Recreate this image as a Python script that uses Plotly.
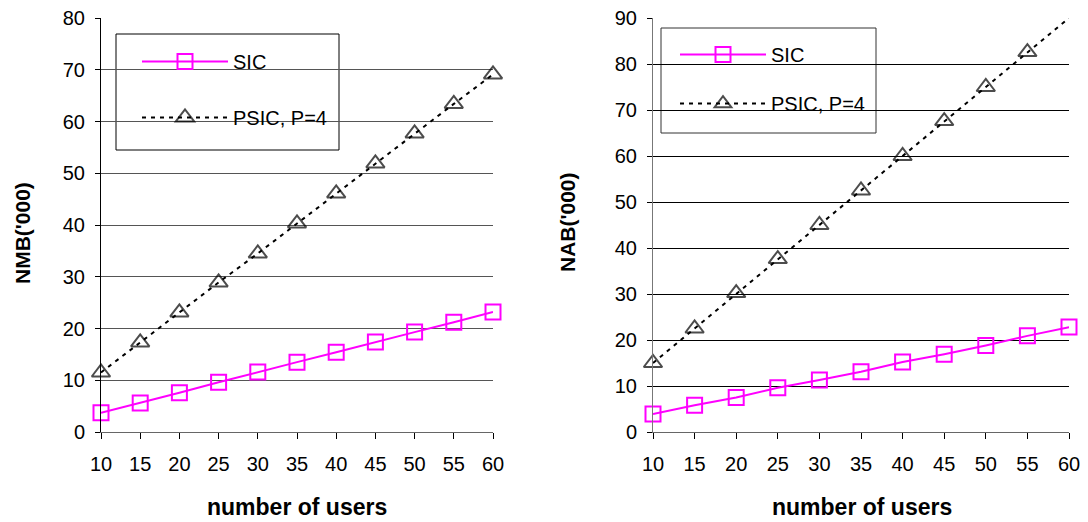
import plotly.graph_objects as go

users = [10, 15, 20, 25, 30, 35, 40, 45, 50, 55, 60]
nmb_sic = [3.7, 5.6, 7.6, 9.6, 11.6, 13.5, 15.4, 17.4, 19.3, 21.2, 23.2]
nmb_psic = [11.5, 17.3, 23.1, 28.9, 34.5, 40.3, 46.1, 51.9, 57.7, 63.4, 69.1]
nab_sic = [3.9, 5.8, 7.5, 9.6, 11.3, 13.1, 15.2, 16.9, 18.8, 20.9, 22.8]
nab_psic = [15.0, 22.5, 30.2, 37.6, 45.0, 52.5, 60.0, 67.6, 75.0, 82.6, 90.0]
x_ticks = [10, 15, 20, 25, 30, 35, 40, 45, 50, 55, 60]

FONT = "Liberation Sans, Arial, sans-serif"
MAG = "#FF00FF"
W, H = 1088, 522

fig = go.Figure()

def add_pair(sic, psic, xa, ya, leg, ymax):
    fig.add_trace(go.Scatter(
        x=users, y=sic, mode="lines+markers", name="SIC",
        line=dict(color=MAG, width=2),
        marker=dict(symbol="square-open", size=15, color=MAG, line=dict(width=2, color=MAG)),
        xaxis=xa, yaxis=ya, legend=leg, legendgroup=leg + "a", cliponaxis=False))
    sizes = [0 if v >= ymax else 16 for v in psic]
    fig.add_trace(go.Scatter(
        x=users, y=psic, mode="lines+markers", name="PSIC, P=4",
        line=dict(color="black", width=2, dash="4px,5px"),
        marker=dict(symbol="triangle-up-open", size=sizes, color="black", line=dict(width=2, color="black")),
        xaxis=xa, yaxis=ya, legend=leg, legendgroup=leg + "b", cliponaxis=False))

add_pair(nmb_sic, nmb_psic, "x", "y", "legend", 80)
add_pair(nab_sic, nab_psic, "x2", "y2", "legend2", 90)

xcommon = dict(range=[10, 60], tickvals=x_ticks, ticks="outside", ticklen=6, tickcolor="black",
               showline=True, linecolor="#666", linewidth=1, showgrid=False, zeroline=False,
               automargin=False,
               tickfont=dict(family=FONT, size=20, color="black"), ticklabelstandoff=8)
ycommon = dict(dtick=10, ticks="outside", ticklen=5, tickcolor="black",
               showline=True, linewidth=1, zeroline=False, automargin=False,
               tickfont=dict(family=FONT, size=20, color="black"), ticklabelstandoff=6)

def px_x(v):
    return v / W

def px_y(v):
    return 1 - v / H

ydom = [px_y(432), px_y(18)]
legfont = dict(family=FONT, size=20, color="black")

fig.update_layout(
    width=W, height=H, margin=dict(l=0, r=0, t=0, b=0, autoexpand=False),
    plot_bgcolor="white", paper_bgcolor="white",
    xaxis=dict(domain=[px_x(101), px_x(493)], anchor="y", **xcommon),
    yaxis=dict(domain=ydom, anchor="x", range=[0, 80], linecolor="black",
               gridcolor="#555555", gridwidth=1, **ycommon),
    xaxis2=dict(domain=[px_x(653), px_x(1069)], anchor="y2", **xcommon),
    yaxis2=dict(domain=ydom, anchor="x2", range=[0, 90], linecolor="#777",
                gridcolor="black", gridwidth=1, **ycommon),
    legend=dict(x=px_x(137), y=px_y(42), xanchor="left", yanchor="top",
                borderwidth=0, bgcolor="rgba(0,0,0,0)", font=legfont,
                itemwidth=86, tracegroupgap=27, valign="middle"),
    legend2=dict(x=px_x(675), y=px_y(35), xanchor="left", yanchor="top",
                 borderwidth=0, bgcolor="rgba(0,0,0,0)", font=legfont,
                 itemwidth=86, tracegroupgap=20, valign="middle"),
    shapes=[
        dict(type="rect", xref="paper", yref="paper", layer="between",
             x0=px_x(116), x1=px_x(339), y0=px_y(150), y1=px_y(34),
             line=dict(color="black", width=1), fillcolor="white"),
        dict(type="rect", xref="paper", yref="paper", layer="between",
             x0=px_x(661), x1=px_x(876), y0=px_y(133), y1=px_y(28),
             line=dict(color="#333", width=1), fillcolor="white"),
    ],
    annotations=[
        dict(text="<b>NMB('000)</b>", x=px_x(22), y=px_y(233), xref="paper", yref="paper",
             xanchor="center", yanchor="middle",
             textangle=-90, showarrow=False, font=dict(family=FONT, size=21, color="black")),
        dict(text="<b>NAB('000)</b>", x=px_x(567), y=px_y(222), xref="paper", yref="paper",
             xanchor="center", yanchor="middle",
             textangle=-90, showarrow=False, font=dict(family=FONT, size=21, color="black")),
        dict(text="<b>number of users</b>", x=px_x(297), y=px_y(507), xref="paper", yref="paper",
             xanchor="center", yanchor="middle",
             showarrow=False, font=dict(family=FONT, size=23, color="black")),
        dict(text="<b>number of users</b>", x=px_x(862), y=px_y(507), xref="paper", yref="paper",
             xanchor="center", yanchor="middle",
             showarrow=False, font=dict(family=FONT, size=23, color="black")),
    ],
)

fig.write_html("out.html")
